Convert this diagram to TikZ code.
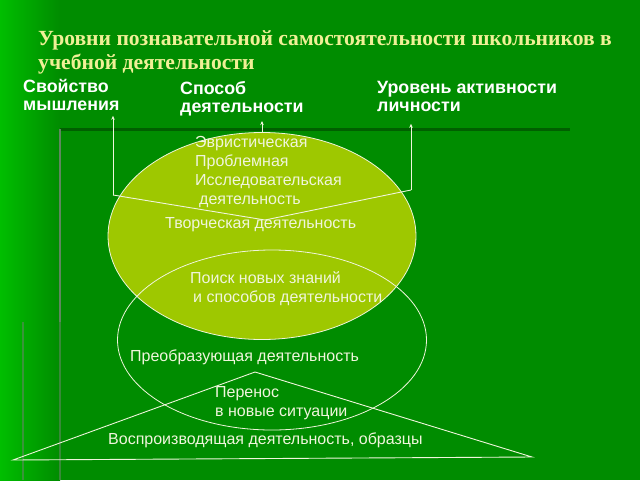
\documentclass[tikz,border=0pt]{standalone}
\usepackage{fontspec}
\setmainfont{Liberation Serif}
\setsansfont{Liberation Sans}
\usetikzlibrary{shapes.geometric,arrows.meta}

\definecolor{slidegreen}{RGB}{0,140,0}
\definecolor{edgegreen}{RGB}{0,190,0}
\definecolor{darkband}{RGB}{0,95,0}
\definecolor{greyline}{RGB}{95,135,95}
\definecolor{limefill}{RGB}{158,200,0}
\definecolor{paleyellow}{RGB}{240,240,150}
\definecolor{chalk}{RGB}{240,245,220}

\tikzset{
  titletext/.style={inner sep=0, anchor=north west, align=left, text=paleyellow,
    font=\rmfamily\bfseries\fontsize{21.6}{24}\selectfont},
  headtext/.style={inner sep=0, anchor=north west, align=left, text=white,
    font=\sffamily\bfseries\fontsize{17.8}{18}\selectfont},
  innertext/.style={inner sep=0, anchor=west, align=left, text=chalk,
    font=\sffamily\fontsize{16}{19}\selectfont},
  link/.style={draw=chalk, line width=0.9pt, -{Stealth[length=4pt,width=3.5pt]}},
  plainlink/.style={draw=chalk, line width=0.9pt}
}

\begin{document}
\begin{tikzpicture}[x=1pt, y=-1pt]
  \useasboundingbox (0,0) rectangle (640,480);
  % background of the slide
  \fill[slidegreen] (0,0) rectangle (640,480);
  \shade[left color=edgegreen, right color=slidegreen] (0,0) rectangle (60,480);
  \draw[darkband, line width=3pt] (60,129) -- (570,129);
  \draw[greyline, line width=2pt] (60,129) -- (60,322);
  \draw[greyline, line width=1.5pt, opacity=0.6] (23,322) -- (23,480);
  \draw[greyline, line width=1.5pt, opacity=0.6] (60,322) -- (60,480);

  % title and headings
  \node[titletext] (title) at (38,30)
    {Уровни познавательной самостоятельности школьников в\\учебной деятельности};
  \node[headtext] (think) at (23,79) {Свойство\\мышления};
  \node[headtext] (way)   at (180,81) {Способ\\деятельности};
  \node[headtext] (level) at (377,81) {Уровень активности\\личности};

  % circles
  \node[ellipse, draw=chalk, fill=limefill, line width=0.8pt, inner sep=0,
        minimum width=308, minimum height=207] (upper) at (262,236) {};
  \node[ellipse, draw=chalk, line width=0.8pt, inner sep=0,
        minimum width=309, minimum height=180] (lower) at (272,340) {};

  % triangle
  \coordinate (apex)  at (255,372);
  \coordinate (baseL) at (13,460);
  \coordinate (baseR) at (532,457);
  \draw[plainlink] (apex) -- (baseL) -- (baseR) -- cycle;

  % texts
  \node[innertext] (forms) at (195,172)
    {Эвристическая\\Проблемная\\Исследовательская\\\hspace{4pt}деятельность};
  \node[innertext] (creative) at (165,225) {Творческая деятельность};
  \node[innertext] (search) at (190,289)
    {Поиск новых знаний\\\hspace{3pt}и способов деятельности};
  \node[innertext] (transform) at (130,357) {Преобразующая деятельность};
  \node[innertext] (transfer) at (215,403) {Перенос\\в новые ситуации};
  \node[innertext] (reproduce) at (108,440) {Воспроизводящая деятельность, образцы};

  % connectors
  \coordinate (vL) at (113,195);
  \coordinate (vV) at (265,220);
  \coordinate (vR) at (411,190);
  \draw[plainlink] (vL) -- (vV) -- (vR);
  \draw[link, shorten >=5pt] (vL) -- (vL |- think.south);
  \draw[link, shorten >=12pt] (vR) -- (vR |- level.south);
  \draw[link, shorten >=5pt] (upper.north) -- (upper.north |- way.south);
\end{tikzpicture}
\end{document}
